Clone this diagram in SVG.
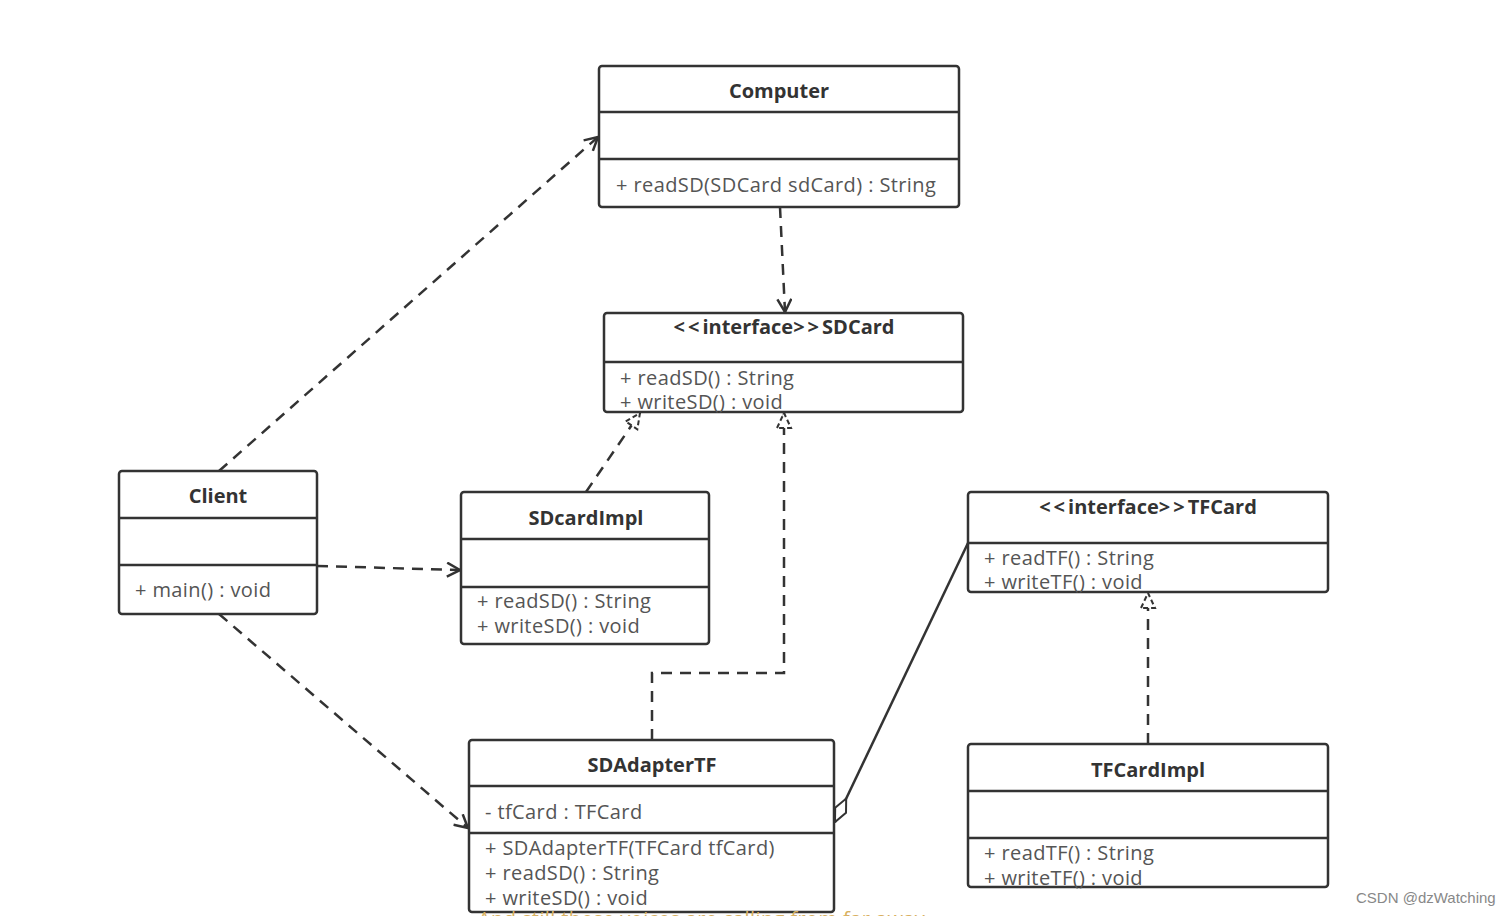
<svg xmlns="http://www.w3.org/2000/svg" width="1512" height="916" viewBox="0 0 1512 916">
<style>
.box{fill:#fff;stroke:#333;stroke-width:2.5}
.div{stroke:#333;stroke-width:2.5}
.title{font-family:"Open Sans","Noto Sans",sans-serif;font-size:20px;font-weight:bold;fill:#333;text-anchor:middle}
.mem{font-family:"Open Sans","Noto Sans",sans-serif;font-size:20px;letter-spacing:0.4px;fill:#555}
.dash{fill:none;stroke:#333;stroke-width:2.5;stroke-dasharray:11 8}
.solid{fill:none;stroke:#333;stroke-width:2.5}
</style>
<defs>
<marker id="open" viewBox="0 0 16 16" refX="15" refY="8" markerWidth="16" markerHeight="16" markerUnits="userSpaceOnUse" orient="auto">
<path d="M2,1 L15,8 L2,15" fill="none" stroke="#333" stroke-width="2.5"/>
</marker>
<marker id="tri" viewBox="0 0 18 18" refX="17" refY="9" markerWidth="18" markerHeight="18" markerUnits="userSpaceOnUse" orient="auto">
<path d="M2,2 L17,9 L2,16 Z" fill="#fff" stroke="#333" stroke-width="2" stroke-dasharray="5 3"/>
</marker>
<marker id="dia" viewBox="0 0 28 16" refX="27" refY="8" markerWidth="28" markerHeight="16" markerUnits="userSpaceOnUse" orient="auto">
<path d="M1,8 L14,2 L27,8 L14,14 Z" fill="#fff" stroke="#333" stroke-width="2"/>
</marker>
</defs>
<rect width="1512" height="916" fill="#fff"/>

<g id="connectors">
<path class="dash" d="M219,471 L598,137" marker-end="url(#open)"/>
<path class="dash" d="M780,207 L785,312" marker-end="url(#open)"/>
<path class="dash" d="M317,566 L460,570" marker-end="url(#open)"/>
<path class="dash" d="M219,614 L468,828" marker-end="url(#open)"/>
<path class="dash" d="M586,492 L640,413" marker-end="url(#tri)"/>
<path class="dash" d="M652,740 L652,673 L784,673 L784,413" marker-end="url(#tri)"/>
<path class="dash" d="M1148,744 L1148,593" marker-end="url(#tri)"/>
<path class="solid" d="M968,543 L835,822" marker-end="url(#dia)"/>
</g>

<g id="computer">
<rect class="box" x="599" y="66" width="360" height="141" rx="3"/>
<line class="div" x1="599" y1="112" x2="959" y2="112"/>
<line class="div" x1="599" y1="159" x2="959" y2="159"/>
<text class="title" x="779" y="98">Computer</text>
<text class="mem" x="616" y="192">+ readSD(SDCard sdCard) : String</text>
</g>

<g id="sdcard">
<rect class="box" x="604" y="313" width="359" height="99" rx="3"/>
<line class="div" x1="604" y1="362" x2="963" y2="362"/>
<text class="title" x="784" y="334"><tspan letter-spacing="3">&lt;&lt;</tspan>interface<tspan letter-spacing="3">&gt;&gt;</tspan>SDCard</text>
<text class="mem" x="620" y="385">+ readSD() : String</text>
<text class="mem" x="620" y="409">+ writeSD() : void</text>
</g>

<g id="client">
<rect class="box" x="119" y="471" width="198" height="143" rx="3"/>
<line class="div" x1="119" y1="518" x2="317" y2="518"/>
<line class="div" x1="119" y1="565" x2="317" y2="565"/>
<text class="title" x="218" y="503">Client</text>
<text class="mem" x="135" y="597">+ main() : void</text>
</g>

<g id="sdcardimpl">
<rect class="box" x="461" y="492" width="248" height="152" rx="3"/>
<line class="div" x1="461" y1="539" x2="709" y2="539"/>
<line class="div" x1="461" y1="587" x2="709" y2="587"/>
<text class="title" x="586" y="525">SDcardImpl</text>
<text class="mem" x="477" y="608">+ readSD() : String</text>
<text class="mem" x="477" y="633">+ writeSD() : void</text>
</g>

<g id="tfcard">
<rect class="box" x="968" y="492" width="360" height="100" rx="3"/>
<line class="div" x1="968" y1="543" x2="1328" y2="543"/>
<text class="title" x="1148" y="514"><tspan letter-spacing="3">&lt;&lt;</tspan>interface<tspan letter-spacing="3">&gt;&gt;</tspan>TFCard</text>
<text class="mem" x="984" y="565">+ readTF() : String</text>
<text class="mem" x="984" y="589">+ writeTF() : void</text>
</g>

<g id="sdadaptertf">
<rect class="box" x="469" y="740" width="365" height="172" rx="3"/>
<line class="div" x1="469" y1="786" x2="834" y2="786"/>
<line class="div" x1="469" y1="833" x2="834" y2="833"/>
<text class="title" x="652" y="772">SDAdapterTF</text>
<text class="mem" x="485" y="819">- tfCard : TFCard</text>
<text class="mem" x="485" y="855">+ SDAdapterTF(TFCard tfCard)</text>
<text class="mem" x="485" y="880">+ readSD() : String</text>
<text class="mem" x="485" y="905">+ writeSD() : void</text>
</g>

<g id="tfcardimpl">
<rect class="box" x="968" y="744" width="360" height="143" rx="3"/>
<line class="div" x1="968" y1="791" x2="1328" y2="791"/>
<line class="div" x1="968" y1="838" x2="1328" y2="838"/>
<text class="title" x="1148" y="777">TFCardImpl</text>
<text class="mem" x="984" y="860">+ readTF() : String</text>
<text class="mem" x="984" y="885">+ writeTF() : void</text>
</g>

<text x="478" y="926" font-family="Open Sans, Noto Sans, sans-serif" font-size="20" letter-spacing="0.4" fill="#d8b060">And still these voices are calling from far away</text>
<text x="1356" y="903" font-family="Liberation Sans, Arial, sans-serif" font-size="15" fill="#888">CSDN @dzWatching</text>
</svg>
